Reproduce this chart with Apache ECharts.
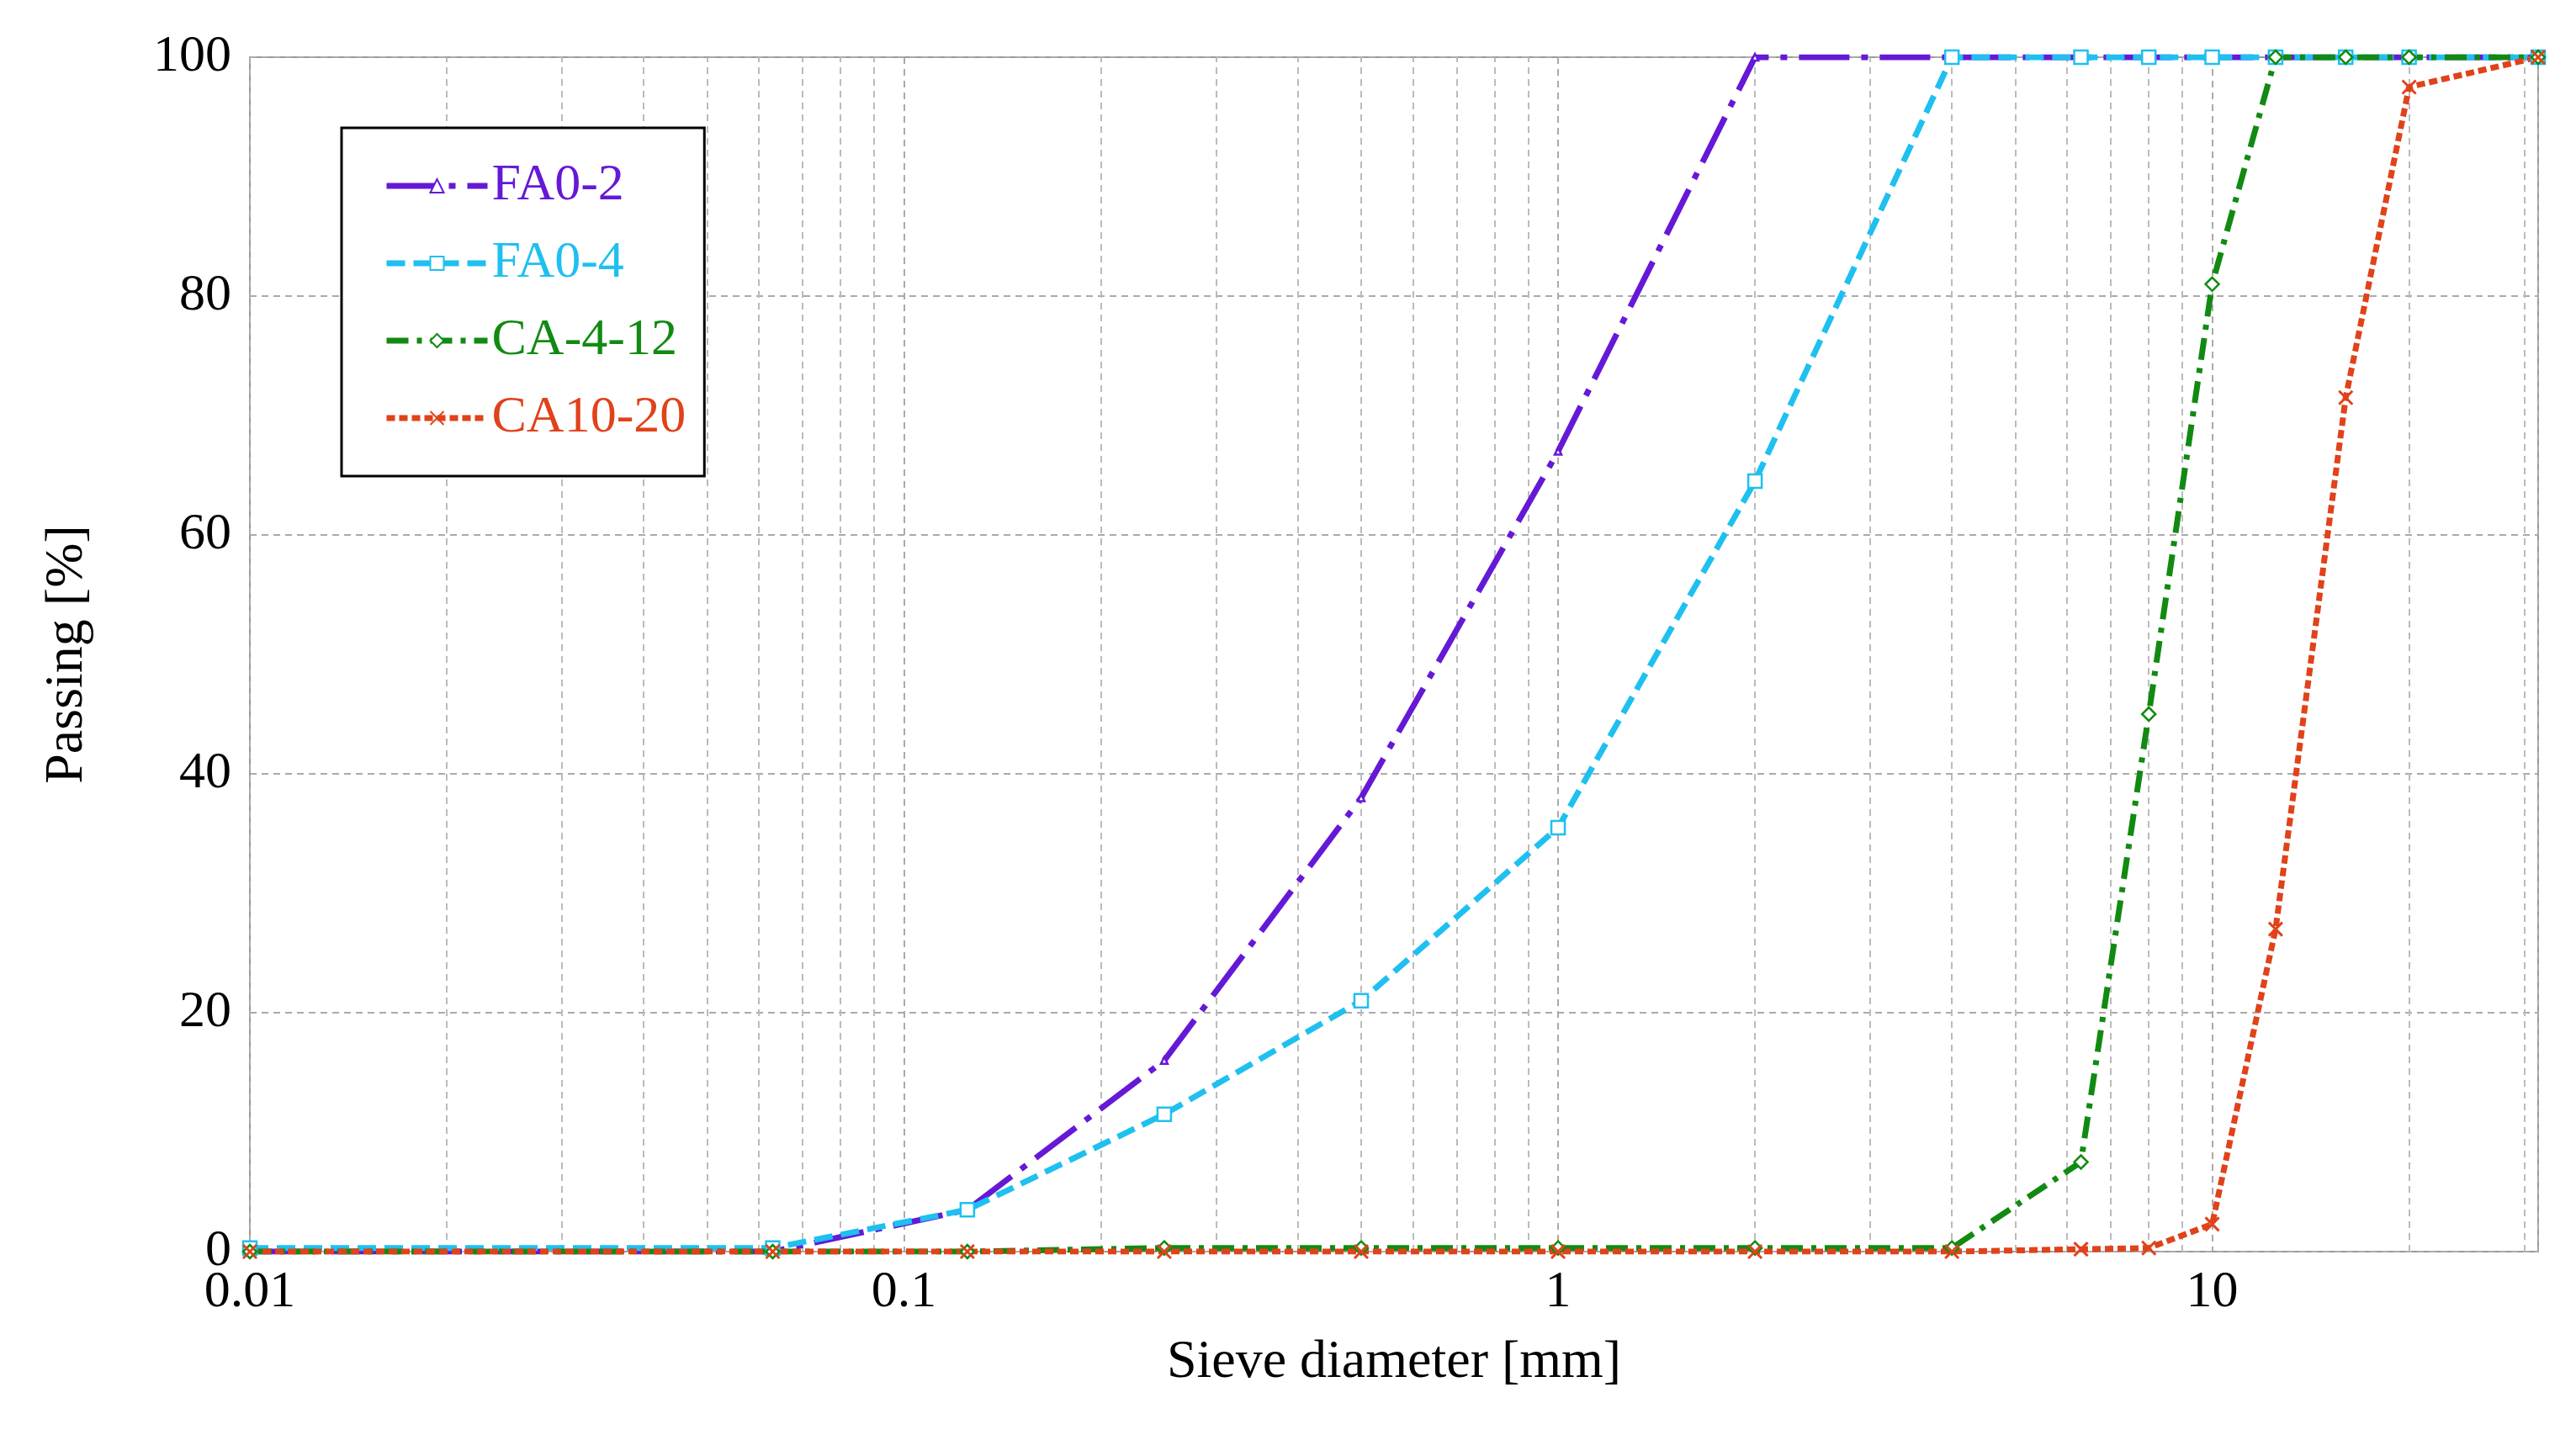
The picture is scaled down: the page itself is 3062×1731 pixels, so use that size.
<!DOCTYPE html>
<html>
<head>
<meta charset="utf-8">
<script src="https://cdn.jsdelivr.net/npm/echarts@6/dist/echarts.min.js"></script>
<style>html,body{margin:0;padding:0;background:#fff}#chart{width:3062px;height:1731px}</style>
</head>
<body>
<div id="chart"></div>
<script>
// sieve sizes [mm]
var sieves = [0.01, 0.063, 0.125, 0.25, 0.5, 1, 2, 4, 6.3, 8, 10, 12.5, 16, 20, 31.5];
var fa02 = [0, 0, 3.5, 16, 38, 67, 100, 100, 100, 100, 100, 100, 100, 100, 100];
var fa04 = [0.3, 0.3, 3.5, 11.5, 21, 35.5, 64.5, 100, 100, 100, 100, 100, 100, 100, 100];
var ca412 = [0, 0, 0, 0.3, 0.3, 0.3, 0.3, 0.3, 7.5, 45, 81, 100, 100, 100, 100];
var ca1020 = [0, 0, 0, 0, 0, 0, 0, 0, 0.2, 0.3, 2.3, 27, 71.5, 97.5, 100];
var minorGrid = [0.02,0.03,0.04,0.05,0.06,0.07,0.08,0.09,0.2,0.3,0.4,0.5,0.6,0.7,0.8,0.9,
  2,3,4,5,6,7,8,9,20,30];
var names = ['FA0-2', 'FA0-4', 'CA-4-12', 'CA10-20'];
var colors = ['#6519d6', '#1ec0f0', '#128a12', '#e0421a'];
var dashes = [[60, 14, 8, 14], [22, 10], [26, 10, 6, 10], [10, 5]];

var font = 'Liberation Serif';

function pairs(vals) {
  return sieves.map(function (s, i) { return [s, vals[i]]; });
}

function mkSeries(i, vals, symbol, extra) {
  var color = colors[i];
  var s = {
    name: names[i],
    type: 'line',
    data: pairs(vals),
    symbol: symbol,
    symbolSize: 16,
    showAllSymbol: true,
    color: color,
    lineStyle: { color: color, width: 7, type: dashes[i] },
    itemStyle: { color: '#fff', borderColor: color, borderWidth: 2.5 },
    z: 5
  };
  return Object.assign(s, extra || {});
}

var chart = echarts.init(document.getElementById('chart'));
chart.setOption({
  animation: false,
  textStyle: { fontFamily: font },
  grid: { left: 297, right: 45, top: 68, bottom: 243, show: true, borderColor: '#999', borderWidth: 2 },
  legend: {
    orient: 'vertical',
    left: 406, top: 152,
    padding: [38, 22, 38, 50],
    itemGap: 30,
    itemWidth: 120, itemHeight: 20,
    borderColor: '#000', borderWidth: 3,
    backgroundColor: '#fff',
    textStyle: { fontFamily: font, fontSize: 62 },
    data: names.map(function (n, i) {
      return {
        name: n,
        textStyle: { color: colors[i], fontFamily: font, fontSize: 62 },
        lineStyle: { color: colors[i], width: 7, type: dashes[i] }
      };
    })
  },
  xAxis: {
    type: 'log', logBase: 10, min: 0.01, max: 31.5,
    name: 'Sieve diameter [mm]', nameLocation: 'middle', nameGap: 100,
    nameTextStyle: { fontFamily: font, fontSize: 64, color: '#000' },
    axisLine: { show: false },
    axisTick: { show: false },
    axisLabel: { fontFamily: font, fontSize: 62, color: '#000', margin: 18, showMaxLabel: false,
      formatter: function (v) { return String(v); } },
    splitLine: { show: true, lineStyle: { color: '#aaa', type: [8, 6], width: 2 } }
  },
  yAxis: {
    type: 'value', min: 0, max: 100, interval: 20,
    name: 'Passing [%]', nameLocation: 'middle', nameGap: 185,
    nameTextStyle: { fontFamily: font, fontSize: 64, color: '#000' },
    axisLine: { show: false },
    axisTick: { show: false },
    axisLabel: { fontFamily: font, fontSize: 62, color: '#000', margin: 22 },
    splitLine: { show: true, lineStyle: { color: '#aaa', type: [8, 6], width: 2 } }
  },
  series: [
    mkSeries(0, fa02, 'triangle', {
      symbolSize: 8,
      markLine: {
        silent: true, symbol: 'none', label: { show: false },
        lineStyle: { color: '#bbb', type: [8, 6], width: 2 },
        data: minorGrid.map(function (v) { return { xAxis: v }; }),
        z: 1
      }
    }),
    mkSeries(1, fa04, 'rect'),
    mkSeries(2, ca412, 'diamond'),
    mkSeries(3, ca1020, 'path://M0,0L10,10M10,0L0,10', {
      itemStyle: { color: '#e0421a', borderColor: '#e0421a', borderWidth: 3 }
    })
  ]
});
</script>
</body>
</html>
